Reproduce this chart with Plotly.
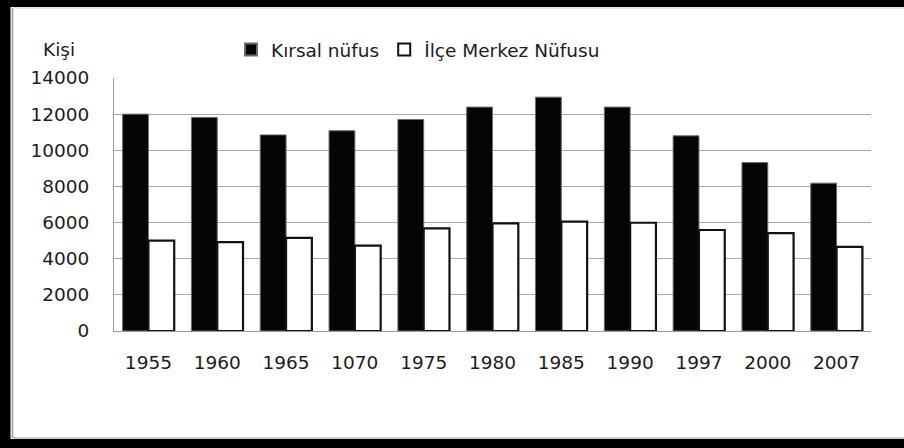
import plotly.graph_objects as go

years = ["1955", "1960", "1965", "1070", "1975", "1980", "1985", "1990", "1997", "2000", "2007"]
kirsal = [12000, 11820, 10850, 11080, 11700, 12390, 12940, 12390, 10800, 9320, 8180]
ilce = [5000, 4920, 5150, 4720, 5680, 5960, 6050, 5990, 5590, 5420, 4650]
y_ticks = [0, 2000, 4000, 6000, 8000, 10000, 12000, 14000]

W, H = 904, 448
L, R, T, B = 114, 871, 78, 331
FONT = dict(family="DejaVu Sans", size=18.5, color="#1c1c1c")

fig = go.Figure()
fig.add_trace(go.Bar(
    name="Kırsal nüfus", x=years, y=kirsal,
    marker=dict(color="#050505", line=dict(color="#6a6a6a", width=1)),
))
fig.add_trace(go.Bar(
    name="İlçe Merkez Nüfusu", x=years, y=ilce,
    marker=dict(color="#ffffff", line=dict(color="#111111", width=2.2)),
))


def px(x):
    return (x - L) / (R - L)


def py(y):
    return (B - y) / (B - T)


shapes = [
    # outer black frame (top, left, bottom)
    dict(type="rect", xref="paper", yref="paper", x0=px(-5), x1=px(W + 20), y0=py(-5), y1=py(7),
         fillcolor="#000000", line=dict(width=0), layer="above"),
    dict(type="rect", xref="paper", yref="paper", x0=px(-5), x1=px(10.5), y0=py(-5), y1=py(H + 5),
         fillcolor="#000000", line=dict(width=0), layer="above"),
    dict(type="rect", xref="paper", yref="paper", x0=px(-5), x1=px(W + 20), y0=py(439), y1=py(H + 5),
         fillcolor="#000000", line=dict(width=0), layer="above"),
    # thin grey inner line
    dict(type="line", xref="paper", yref="paper", x0=px(12.5), x1=px(12.5), y0=py(8), y1=py(438),
         line=dict(color="#9a9a9a", width=1.5)),
    dict(type="line", xref="paper", yref="paper", x0=px(12.5), x1=px(W + 10), y0=py(8), y1=py(8),
         line=dict(color="#cfcfcf", width=1)),
    dict(type="line", xref="paper", yref="paper", x0=px(12.5), x1=px(W + 10), y0=py(438), y1=py(438),
         line=dict(color="#9a9a9a", width=1)),
]

fig.update_layout(
    width=W, height=H,
    margin=dict(l=L, r=W - R, t=T, b=H - B, autoexpand=False),
    paper_bgcolor="#ffffff", plot_bgcolor="#ffffff",
    font=FONT,
    barmode="group", bargap=0.25, bargroupgap=0,
    showlegend=True,
    legend=dict(orientation="h", xref="container", yref="container",
                x=(271 - 40) / W, xanchor="left", y=1 - 50 / H, yanchor="middle",
                font=FONT, bgcolor="rgba(0,0,0,0)", itemsizing="constant",
                traceorder="normal"),
    shapes=shapes,
    annotations=[dict(text="Kişi", xref="paper", yref="paper", x=px(58.5), y=py(50),
                      xanchor="center", yanchor="middle", showarrow=False, font=FONT)],
)
fig.update_xaxes(showgrid=False, showline=True, linecolor="#9a9a9a", linewidth=1,
                 ticks="", ticklabelstandoff=15, tickfont=FONT, automargin=False)
fig.update_yaxes(range=[0, 14000], tickvals=y_ticks, ticktext=[str(v) for v in y_ticks],
                 showgrid=True, gridcolor="#a8a8a8", gridwidth=1,
                 showline=True, linecolor="#9a9a9a", linewidth=1,
                 zeroline=False, ticks="", ticklabelstandoff=20, tickfont=FONT, automargin=False)

fig.write_html("out.html", config={"displayModeBar": False},
               post_script="document.body.style.margin='0';document.body.style.overflow='hidden';")
